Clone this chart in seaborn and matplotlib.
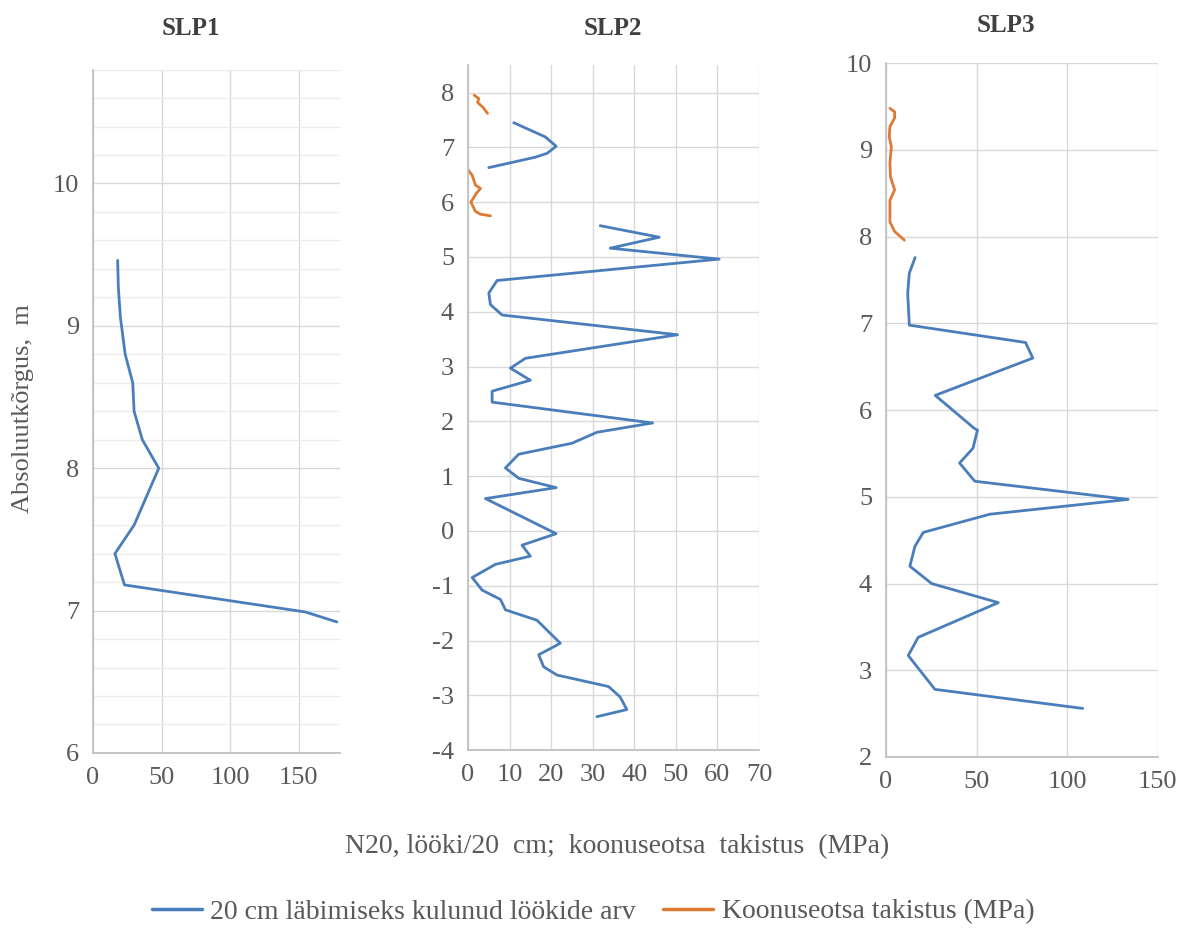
import matplotlib
matplotlib.use("Agg")
import matplotlib.pyplot as plt
from matplotlib.lines import Line2D
import seaborn as sns

sns.set_theme(style="white")
plt.rcParams['font.family'] = ['Liberation Serif', 'DejaVu Serif']
plt.rcParams['axes.unicode_minus'] = False

# SLP1 - blows per 20 cm
slp1_n20 = [18, 18.5, 20, 23.5, 29, 30, 36, 48, 39, 30, 16, 23, 155, 178]
slp1_z = [9.46, 9.27, 9.06, 8.80, 8.60, 8.40, 8.20, 8.00, 7.80, 7.60, 7.40, 7.18, 6.99, 6.92]

# SLP2 - blows per 20 cm, two segments
slp2a_n20 = [11, 18.6, 21.2, 19, 16.2, 5]
slp2a_z = [7.45, 7.19, 7.02, 6.89, 6.82, 6.63]
slp2b_n20 = [31.8, 46, 34.2, 60.4, 7, 5, 5.4, 8.2, 50.4, 13.8, 10.2, 15, 5.8, 5.8,
             44.4, 31, 25, 12.2, 9, 12.2, 21.2, 4.2, 21.2, 13, 15, 6.6, 1,
             3.4, 7.8, 9, 16.6, 22.2, 17, 18.2, 21.4, 33.8, 36.6, 38.2, 31]
slp2b_z = [5.57, 5.36, 5.16, 4.96, 4.57, 4.34, 4.13, 3.94, 3.58, 3.15, 2.97, 2.75, 2.55, 2.35,
           1.97, 1.80, 1.60, 1.40, 1.15, 0.96, 0.79, 0.59, -0.05, -0.26, -0.46, -0.61, -0.85,
           -1.08, -1.25, -1.44, -1.63, -2.05, -2.26, -2.48, -2.63, -2.84, -3.03, -3.26, -3.39]
# SLP2 - cone resistance (MPa), two segments
slp2c_q = [1.5, 2.6, 2.3, 3.6, 4.7]
slp2c_z = [7.95, 7.89, 7.82, 7.73, 7.62]
slp2d_q = [0, 1, 1.8, 3, 2, 0.7, 1.8, 3, 5.4]
slp2d_z = [6.59, 6.49, 6.31, 6.25, 6.16, 6.0, 5.83, 5.78, 5.75]

# SLP3
slp3_n20 = [16.1, 12.9, 12, 12.9, 77, 81, 27.2, 48.7, 50.5, 48, 40.6, 49, 133.6, 57.4,
            20.6, 16, 13.2, 25.2, 62, 17.8, 12.3, 27, 108.5]
slp3_z = [7.76, 7.58, 7.35, 6.98, 6.78, 6.60, 6.17, 5.79, 5.77, 5.56, 5.39, 5.18, 4.97, 4.80,
          4.59, 4.43, 4.20, 4.00, 3.78, 3.38, 3.17, 2.78, 2.56]
slp3_q = [2.2, 4.8, 4.8, 2.2, 1.8, 3, 2.2, 2.5, 4.8, 2.2, 2.2, 2.2, 4.8, 10.2]
slp3_qz = [9.48, 9.44, 9.37, 9.27, 9.15, 9.04, 8.85, 8.69, 8.54, 8.42, 8.27, 8.17, 8.06, 7.96]

titles = ["SLP1", "SLP2", "SLP3"]

blue = "#4a7ebb"
orange = "#de7a33"
grey_txt = "#595959"
grid_c = "#d9d9d9"
tick_fs = 19

fig = plt.figure(figsize=(11.86, 9.4), dpi=100)
ax1 = fig.add_axes([0.0784, 0.199, 0.208, 0.727])
ax2 = fig.add_axes([0.3946, 0.202, 0.2454, 0.7287])
ax3 = fig.add_axes([0.747, 0.1947, 0.2293, 0.738])


def draw(ax, x, y, c):
    sns.lineplot(x=x, y=y, sort=False, estimator=None, color=c, linewidth=2, ax=ax)


draw(ax1, slp1_n20, slp1_z, blue)
draw(ax2, slp2a_n20, slp2a_z, blue)
draw(ax2, slp2b_n20, slp2b_z, blue)
draw(ax2, slp2c_q, slp2c_z, orange)
draw(ax2, slp2d_q, slp2d_z, orange)
draw(ax3, slp3_n20, slp3_z, blue)
draw(ax3, slp3_q, slp3_qz, orange)

ax1.set_xlim(0, 180)
ax1.set_ylim(6, 10.8)
ax1.set_xticks([0, 50, 100, 150])
ax1.set_yticks([6, 7, 8, 9, 10])
ax1.set_yticks([6 + 0.2 * i for i in range(25)], minor=True)

ax2.set_xlim(0, 70)
ax2.set_ylim(-4, 8.5)
ax2.set_xticks(range(0, 71, 10))
ax2.set_yticks(range(-4, 9))

ax3.set_xlim(0, 150)
ax3.set_ylim(2, 10)
ax3.set_xticks([0, 50, 100, 150])
ax3.set_yticks(range(2, 11))

for ax in [ax1, ax2, ax3]:
    ax.grid(True, which="major", color=grid_c, linewidth=1)
    ax.set_axisbelow(True)
    for s in ["top", "right"]:
        ax.spines[s].set_visible(False)
    for s in ["left", "bottom"]:
        ax.spines[s].set_color("#bfbfbf")
    ax.tick_params(axis="both", labelsize=tick_fs, labelcolor=grey_txt, length=0, pad=10)
    ax.set_xlabel("")
    ax.set_ylabel("")

ax1.grid(True, which="minor", axis="y", color="#ececec", linewidth=1)
ax1.tick_params(which="minor", length=0)

# panel titles
for xc, yc, t in zip([0.161, 0.517, 0.848], [0.970, 0.970, 0.973], titles):
    fig.text(xc, yc, t, ha="center", va="center", fontsize=18, fontweight="bold", color="#404040")

fig.text(0.019, 0.565, "Absoluutkõrgus,  m", rotation=90, ha="center", va="center",
         fontsize=19, color=grey_txt)
fig.text(0.52, 0.099, "N20, lööki/20  cm;  koonuseotsa  takistus  (MPa)",
         ha="center", va="center", fontsize=20, color=grey_txt)

handles = [Line2D([], [], color=blue, linewidth=2.5),
           Line2D([], [], color=orange, linewidth=2.5)]
fig.legend(handles, ["20 cm läbimiseks kulunud löökide arv", "Koonuseotsa takistus (MPa)"],
           loc="center", bbox_to_anchor=(0.5, 0.03), ncol=2, frameon=False,
           fontsize=20, labelcolor=grey_txt, handlelength=1.8, handletextpad=0.3,
           columnspacing=1.0)

fig.savefig("out.png", dpi=100)
